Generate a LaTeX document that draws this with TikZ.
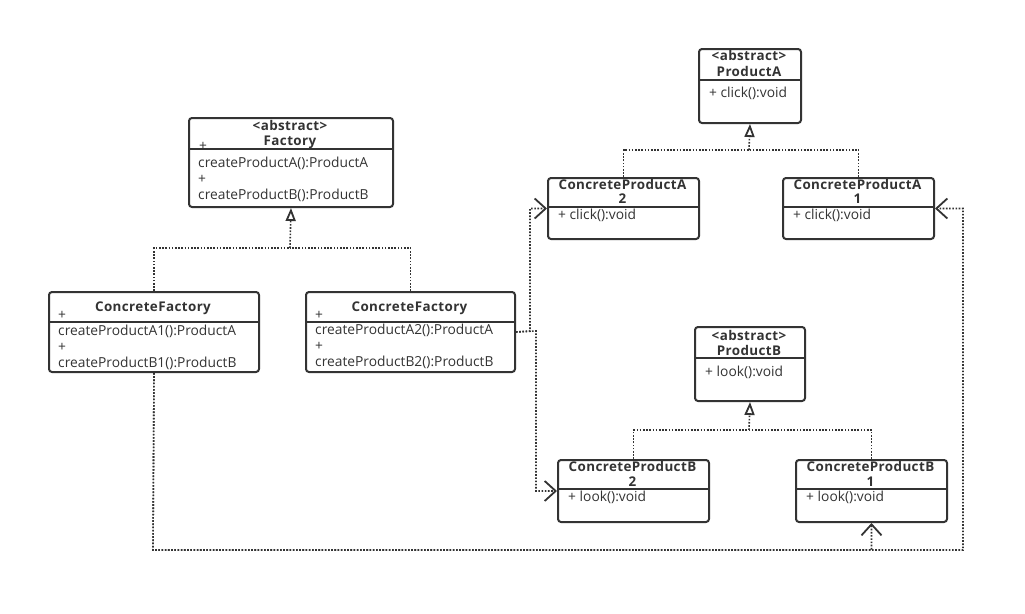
\documentclass[tikz,border=0pt]{standalone}
\usepackage{fontspec}
\setmainfont{Open Sans}
\newfontfamily\ttlfont[LetterSpace=3]{Open Sans}
\usetikzlibrary{arrows.meta}
\definecolor{ink}{HTML}{333333}
\tikzset{
  box/.style={draw=ink, line width=2pt, rounded corners=3pt, anchor=north west, inner sep=0pt},
  divline/.style={draw=ink, line width=2pt},
  txt/.style={anchor=base west, inner sep=0pt, text=ink, font=\fontsize{13.8}{15}\selectfont},
  ttl/.style={anchor=base, inner sep=0pt, text=ink, font=\ttlfont\bfseries\fontsize{13.4}{15}\selectfont},
  dep/.style={draw=ink, line width=1.6pt, dash pattern=on 1.6pt off 1.6pt},
  inh/.style={dep, -{Triangle[open, length=13pt, width=10pt, line width=1.8pt]}},
  usearr/.style={dep, -{Straight Barb[length=11pt, width=20pt, line width=1.8pt]}}
}
\begin{document}
\begin{tikzpicture}[x=1pt, y=-1pt]
\useasboundingbox (0,0) rectangle (1025,613);
% boxes
\node[box, minimum width=204pt, minimum height=89pt] (fac) at (188,117) {};
\node[box, minimum width=210pt, minimum height=80pt] (cf1) at (48,291) {};
\node[box, minimum width=209pt, minimum height=80pt] (cf2) at (305,291) {};
\node[box, minimum width=102pt, minimum height=74pt] (pa) at (698,48) {};
\node[box, minimum width=151pt, minimum height=61pt] (cpa2) at (547,177) {};
\node[box, minimum width=151pt, minimum height=61pt] (cpa1) at (782,177) {};
\node[box, minimum width=110pt, minimum height=74pt] (pb) at (694,326) {};
\node[box, minimum width=151pt, minimum height=62pt] (cpb2) at (557,459) {};
\node[box, minimum width=151pt, minimum height=62pt] (cpb1) at (795,459) {};
% dividers
\draw[divline] (fac.west |- 0,149) -- (fac.east |- 0,149);
\draw[divline] (cf1.west |- 0,322) -- (cf1.east |- 0,322);
\draw[divline] (cf2.west |- 0,322) -- (cf2.east |- 0,322);
\draw[divline] (pa.west |- 0,80) -- (pa.east |- 0,80);
\draw[divline] (cpa2.west |- 0,207) -- (cpa2.east |- 0,207);
\draw[divline] (cpa1.west |- 0,207) -- (cpa1.east |- 0,207);
\draw[divline] (pb.west |- 0,358) -- (pb.east |- 0,358);
\draw[divline] (cpb2.west |- 0,489) -- (cpb2.east |- 0,489);
\draw[divline] (cpb1.west |- 0,489) -- (cpb1.east |- 0,489);
% texts: Factory
\node[ttl] (facs) at (290,130) {<abstract>};
\node[ttl] (facn) at (290,145) {Factory};
\node[txt] (facp) at (199,150) {+};
\node[txt] (fac1) at (198,167) {createProductA():ProductA};
\node[txt] (fac2) at (198,183) {+};
\node[txt] (fac3) at (198,199) {createProductB():ProductB};
% ConcreteFactory 1
\node[ttl] (cf1n) at (153,311) {ConcreteFactory};
\node[txt] (cf1p) at (58,319) {+};
\node[txt] (cf1a) at (58,335) {createProductA1():ProductA};
\node[txt] (cf1b) at (58,351) {+};
\node[txt] (cf1c) at (58,367) {createProductB1():ProductB};
% ConcreteFactory 2
\node[ttl] (cf2n) at (409.5,311) {ConcreteFactory};
\node[txt] (cf2p) at (315,319) {+};
\node[txt] (cf2a) at (315,334) {createProductA2():ProductA};
\node[txt] (cf2b) at (315,350) {+};
\node[txt] (cf2c) at (315,366) {createProductB2():ProductB};
% ProductA
\node[ttl] (pas) at (749,60) {<abstract>};
\node[ttl] (pan) at (749,76) {ProductA};
\node[txt] (pam) at (709,97) {+ click():void};
% ConcreteProductA2
\node[ttl] (cpa2n) at (622.5,189) {ConcreteProductA};
\node[ttl] (cpa2k) at (622.5,203) {2};
\node[txt] (cpa2m) at (558,219) {+ click():void};
% ConcreteProductA1
\node[ttl] (cpa1n) at (857.5,189) {ConcreteProductA};
\node[ttl] (cpa1k) at (857.5,203) {1};
\node[txt] (cpa1m) at (793,219) {+ click():void};
% ProductB
\node[ttl] (pbs) at (749,340) {<abstract>};
\node[ttl] (pbn) at (749,355) {ProductB};
\node[txt] (pbm) at (705,376) {+ look():void};
% ConcreteProductB2
\node[ttl] (cpb2n) at (632.5,471.5) {ConcreteProductB};
\node[ttl] (cpb2k) at (632.5,486) {2};
\node[txt] (cpb2m) at (568,501) {+ look():void};
% ConcreteProductB1
\node[ttl] (cpb1n) at (870.5,471.5) {ConcreteProductB};
\node[ttl] (cpb1k) at (870.5,486) {1};
\node[txt] (cpb1m) at (806,501) {+ look():void};
% connectors
\coordinate (fj) at (290,248);
\coordinate (aj) at (749,150);
\coordinate (bj) at (749,430);
\draw[dep] (cf1.north) |- (fj);
\draw[dep] (cf2.north) |- (fj);
\draw[inh] (fj) -- (fac.south);
\draw[dep] (cpa2.north) |- (aj);
\draw[dep] (cpa1.north) |- (aj);
\draw[inh] (aj) -- (pa.south);
\draw[dep] (cpb2.north) |- (bj);
\draw[dep] (cpb1.north) |- (bj);
\draw[inh] (bj) -- (pb.south);
\coordinate (r1) at (530,331);
\coordinate (r2) at (536,331);
\draw[usearr] (cf2.east) -- (r1) |- (cpa2.west);
\draw[usearr] (cf2.east) -- (r2) |- (cpb2.west);
\coordinate (bl) at (153,550);
\coordinate (br) at (963,550);
\draw[usearr] (cf1.south) -- (bl) -| (cpb1.south);
\draw[usearr] (cf1.south) -- (bl) -- (br) |- (cpa1.east);
\end{tikzpicture}
\end{document}
